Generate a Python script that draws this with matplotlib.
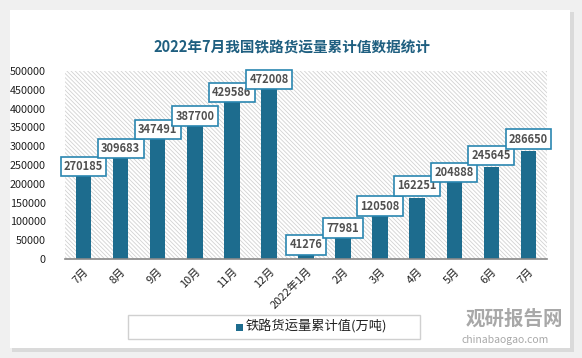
import matplotlib.pyplot as plt
from matplotlib.patches import Rectangle

plt.rcParams['font.family'] = ['Noto Sans CJK SC', 'DejaVu Sans']
plt.rcParams['hatch.color'] = '#d2d2d2'
plt.rcParams['hatch.linewidth'] = 0.6

months = ['7月', '8月', '9月', '10月', '11月', '12月', '2022年1月',
          '2月', '3月', '4月', '5月', '6月', '7月']
values = [270185, 309683, 347491, 387700, 429586, 472008, 41276,
          77981, 120508, 162251, 204888, 245645, 286650]
yticks = [0, 50000, 100000, 150000, 200000, 250000, 300000, 350000,
          400000, 450000, 500000]

# label box shift from bar top, in pixels (positive = lower), as in the source
label_shift = [9, 6, 1, 3, -5, -2, 1.5, -1.5, -7.5, -12, -9.5, -11, -12]

bar_color = '#1d6c8e'

fig = plt.figure(figsize=(5.82, 3.58), dpi=100)
fig.patch.set_facecolor('#f0f0f0')

# card with shadow (drawn on a background axes)
bg = fig.add_axes([0, 0, 1, 1], zorder=-10)
bg.set_xlim(0, 582)
bg.set_ylim(358, 0)
bg.axis('off')
bg.add_patch(Rectangle((12, 12), 562, 340, facecolor='#dadada', edgecolor='none'))
bg.add_patch(Rectangle((10, 10), 560, 338, facecolor='white', edgecolor='none'))
# legend box
bg.add_patch(Rectangle((128, 315), 292, 24, facecolor='white',
                       edgecolor='#d0d0d0', linewidth=1))
bg.add_patch(Rectangle((236, 324), 7, 7, facecolor=bar_color, edgecolor='none'))
bg.text(246, 327, '铁路货运量累计值(万吨)', ha='left', va='center',
        fontsize=9.5, color='#222222')
# watermark
bg.text(466, 319, '观研报告网', ha='left', va='center',
        fontsize=14, fontweight='bold', color='#a8a8a8')
bg.text(462, 340, 'chinabaogao.com', ha='left', va='center',
        fontsize=7.5, color='#a8a8a8')

ax = fig.add_axes([65 / 582, 1 - 259 / 358, 482 / 582, 188 / 358])
ax.set_facecolor('none')
ax.add_patch(Rectangle((0, 0), 1, 1, transform=ax.transAxes, facecolor='white',
                       edgecolor='#d2d2d2', hatch='\\\\\\\\\\\\\\\\', linewidth=0,
                       zorder=0))

x = range(len(months))
ax.bar(x, values, width=0.42, color=bar_color, zorder=2)
ax.set_xlim(-0.5, len(months) - 0.5)
ax.set_ylim(0, 500000)
ax.set_yticks(yticks)
ax.set_yticklabels([str(v) for v in yticks], fontsize=7.8, color='#222222')
ax.set_xticks(list(x))
ax.set_xticklabels(months, rotation=45, ha='right', rotation_mode='anchor',
                   fontsize=8, color='#222222')
ax.tick_params(axis='both', length=0, pad=5)
ax.tick_params(axis='y', pad=14)
for s in ['top', 'right', 'left']:
    ax.spines[s].set_visible(False)
ax.spines['bottom'].set_color('#888888')
ax.spines['bottom'].set_linewidth(1.2)

for xi, v, dy in zip(x, values, label_shift):
    ax.annotate(str(v), (xi, v), xytext=(0, -dy * 0.72), textcoords='offset points',
                ha='center', va='center', fontsize=8, fontweight='bold',
                color='#505050', zorder=5, annotation_clip=False,
                bbox=dict(boxstyle='square,pad=0.3', facecolor='white',
                          edgecolor='#2a86b0', linewidth=1.2))

fig.text(292 / 582, 1 - 47 / 358, '2022年7月我国铁路货运量累计值数据统计',
         ha='center', va='center', fontsize=10.5, fontweight='bold',
         color='#1f5f80')

fig.savefig('out.png', dpi=100, facecolor=fig.get_facecolor())
